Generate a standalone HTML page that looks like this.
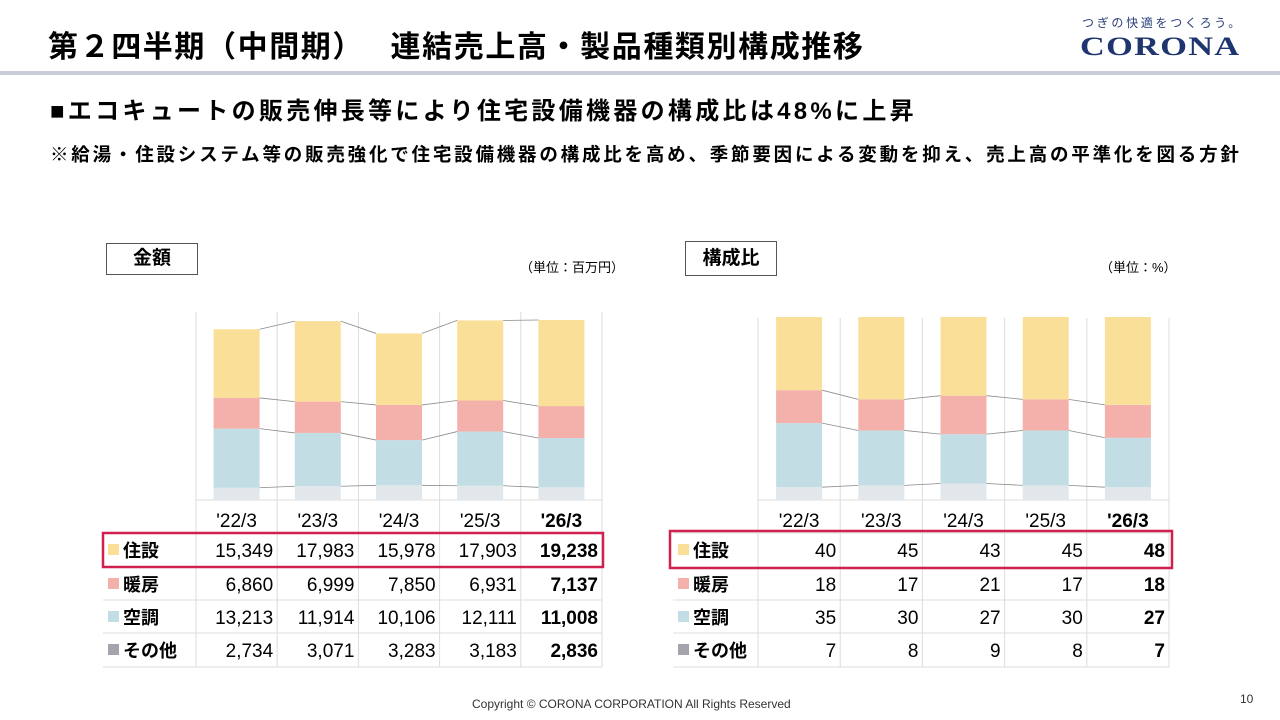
<!DOCTYPE html>
<html><head><meta charset="utf-8">
<style>
body{margin:0;width:1280px;height:720px;background:#fff;position:relative;overflow:hidden;font-family:"Liberation Sans","Noto Sans CJK JP",sans-serif;color:#000}
.abs{position:absolute;white-space:nowrap}
</style></head><body>
<div class="abs" style="left:48px;top:22px;font-size:30px;font-weight:bold;letter-spacing:1.6px">第２四半期（中間期）　 連結売上高・製品種類別構成推移</div>
<div class="abs" style="left:1082px;top:14px;font-size:12px;color:#2a3f7a;letter-spacing:2.7px">つぎの快適をつくろう。</div>
<div class="abs" style="left:1080px;top:32px;font-size:26px;font-weight:bold;color:#1f3570;font-family:'Liberation Serif',serif;letter-spacing:1px;transform:scaleX(1.32);transform-origin:left">CORONA</div>
<div class="abs" style="left:0;top:71px;width:1280px;height:4px;background:#c9ced6"></div>
<div class="abs" style="left:50px;top:91px;font-size:24px;font-weight:bold;letter-spacing:3.3px">■エコキュートの販売伸長等により住宅設備機器の構成比は48%に上昇</div>
<div class="abs" style="left:50px;top:141px;font-size:18.5px;font-weight:bold;letter-spacing:2.8px">※給湯・住設システム等の販売強化で住宅設備機器の構成比を高め、季節要因による変動を抑え、売上高の平準化を図る方針</div>
<div class="abs" style="left:106px;top:243px;width:90px;height:30px;border:1.5px solid #555;font-size:19px;font-weight:bold;text-align:center;line-height:30px">金額</div>
<div class="abs" style="left:520px;top:257px;font-size:13px">（単位：百万円）</div>
<div class="abs" style="left:685px;top:241px;width:90px;height:33px;border:1.5px solid #555;font-size:19px;font-weight:bold;text-align:center;line-height:33px">構成比</div>
<div class="abs" style="left:1100px;top:257px;font-size:13px">（単位：%）</div>
<div class="abs" style="left:472px;top:697px;font-size:12px;color:#333">Copyright © CORONA CORPORATION All Rights Reserved</div>
<div class="abs" style="left:1240px;top:692px;font-size:12px;color:#333">10</div>
<svg id="sv" width="1280" height="720" style="position:absolute;left:0;top:0"></svg>
<script>
const categories=["'22/3","'23/3","'24/3","'25/3","'26/3"];
const seriesNames=["住設","暖房","空調","その他"];
const amtHousing=[15349,17983,15978,17903,19238];
const amtHeating=[6860,6999,7850,6931,7137];
const amtAircon=[13213,11914,10106,12111,11008];
const amtOther=[2734,3071,3283,3183,2836];
const pctHousing=[40,45,43,45,48];
const pctHeating=[18,17,21,17,18];
const pctAircon=[35,30,27,30,27];
const pctOther=[7,8,9,8,7];
const barCols=["#fadf99","#f4b0aa","#c2dde4","#e2e7eb"];
const swCols=["#fadf99","#f4b0aa","#c2dde4","#a3a4ac"];
const NS="http://www.w3.org/2000/svg";
const sv=document.getElementById('sv');
function mk(t,a){const e=document.createElementNS(NS,t);for(const k in a)e.setAttribute(k,a[k]);sv.appendChild(e);return e;}
function chart(cfg){
  const {x0,colW,lblX,plotTop,yBase,yTop,maxV,series,fmt,highlight,prefix,topConn}=cfg;
  const y=v=>yBase-(v/maxV)*(yBase-yTop);
  const xc=i=>x0+colW*(i+0.5);
  const bw=46;
  for(let k=0;k<=categories.length;k++){
    const l=mk('line',{x1:x0+k*colW,x2:x0+k*colW,y1:plotTop,y2:667,stroke:'#dcdcdc','stroke-width':1});
    
    
  }
  const rows=[500,533,567,600,633,667];
  rows.forEach((ry,r)=>{
    const l=mk('line',{x1:r===0?x0:lblX,x2:x0+colW*5,y1:ry,y2:ry,stroke:'#dcdcdc','stroke-width':1});
    
    
  });
  const order=[3,2,1,0];
  const tops=[];
  categories.forEach((c,i)=>{
    let cum=0;const t={};
    order.forEach(s=>{
      const v=series[s][i];
      const r=mk('rect',{x:xc(i)-bw/2,y:y(cum+v),width:bw,height:y(cum)-y(cum+v),fill:barCols[s]});
      
      
      cum+=v;t[s]=y(cum);
    });
    tops.push(t);
  });
  for(let i=0;i<categories.length-1;i++){
    (topConn?[3,2,1,0]:[3,2,1]).forEach(s=>{
      const l=mk('line',{x1:xc(i)+bw/2,x2:xc(i+1)-bw/2,y1:tops[i][s],y2:tops[i+1][s],stroke:'#8a8a8a','stroke-width':0.8});
      
      
    });
  }
  categories.forEach((c,i)=>{
    const t=mk('text',{x:xc(i),y:527,'text-anchor':'middle','font-size':19,'font-weight':i===4?'bold':'normal'});
    t.textContent=c;
    
    
  });
  seriesNames.forEach((n,s)=>{
    const cy=rows[s+1]+17;
    const sw=mk('rect',{x:lblX+5,y:cy-6,width:11,height:11,fill:swCols[s]});
    
    
    const t=mk('text',{x:lblX+20,y:cy+7,'font-size':18,'font-weight':'bold'});
    t.textContent=n;
    
    
    categories.forEach((c,i)=>{
      const v=mk('text',{x:x0+colW*(i+1)-4,y:cy+7,'text-anchor':'end','font-size':19,'font-weight':i===4?'bold':'normal'});
      v.textContent=fmt(series[s][i]);
      
      
    });
  });
  const h=mk('rect',highlight);
  h.setAttribute('fill','none');h.setAttribute('stroke','#d0204f');h.setAttribute('stroke-width',2.5);
  
  
}
const fmtN=v=>v.toLocaleString('en-US');
chart({prefix:'amount',x0:196,colW:81.2,lblX:103,plotTop:312,yBase:500,yTop:320,maxV:40219,topConn:true,
  series:[amtHousing,amtHeating,amtAircon,amtOther],fmt:fmtN,highlight:{x:103,y:533,width:500,height:34}});
chart({prefix:'ratio',x0:758,colW:82.2,lblX:673,plotTop:318,yBase:500,yTop:317,maxV:100,topConn:false,
  series:[pctHousing,pctHeating,pctAircon,pctOther],fmt:v=>String(v),highlight:{x:670,y:531,width:502,height:37}});
</script>
</body></html>
